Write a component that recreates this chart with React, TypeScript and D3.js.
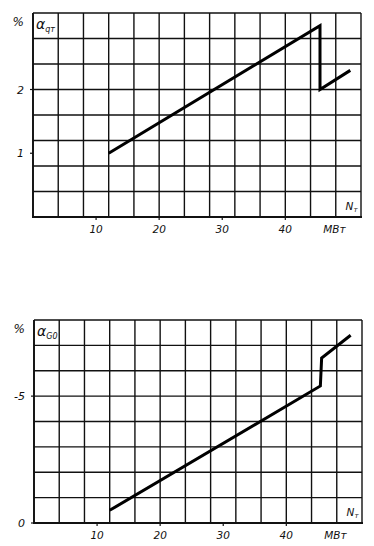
import * as d3 from "d3";

// x axis: turbine power N_T, MW
const nTicks = [10, 20, 30, 40];

// upper panel: alpha_qT, %
const qN = [12, 45.5, 45.5, 50.3];
const qAlpha = [1.0, 3.0, 2.0, 2.3];
const qTicks = [1, 2];

// lower panel: alpha_G0, %
const gN = [12, 45.4, 45.6, 50.2];
const gAlpha = [-0.5, -5.4, -6.5, -7.4];
const gTicks = [0, -5];

const FONT = "'DejaVu Sans', sans-serif";

type PanelProps = {
  top: number;
  bottom: number;
  left: number;
  right: number;
  yDomain: [number, number];
  yStep: number;
  yTicks: number[];
  xs: number[];
  ys: number[];
  sub: string;
};

function Panel({ top, bottom, left, right, yDomain, yStep, yTicks, xs, ys, sub }: PanelProps) {
  const x = d3.scaleLinear().domain([0, 52]).range([left, right]);
  const y = d3.scaleLinear().domain(yDomain).range([bottom, top]);

  const cols = d3.range(0, 52 + 0.01, 4);
  const lo = Math.min(...yDomain), hi = Math.max(...yDomain);
  const rows = d3.range(lo, hi + yStep / 10, yStep);

  const line = d3
    .line<number>()
    .x((_, i) => x(xs[i]))
    .y((d) => y(d));

  return (
    <g fontFamily={FONT} fontStyle="oblique" fill="#111">
      {cols.map((c) => (
        <line key={"v" + c} x1={x(c)} x2={x(c)} y1={top} y2={bottom} stroke="#111" strokeWidth={1.4} />
      ))}
      {rows.map((r) => (
        <line key={"h" + r} x1={left} x2={right} y1={y(r)} y2={y(r)} stroke="#111" strokeWidth={1.4} />
      ))}
      <line x1={left - 1} x2={right + 1} y1={bottom} y2={bottom} stroke="#111" strokeWidth={2.2} />
      <line x1={left} x2={left} y1={top} y2={bottom} stroke="#111" strokeWidth={1.8} />

      {nTicks.map((t) => (
        <g key={"xt" + t}>
          <line x1={x(t)} x2={x(t)} y1={bottom} y2={bottom + 3} stroke="#111" strokeWidth={1.2} />
          <text x={x(t)} y={bottom + 16} fontSize={10.5} textAnchor="middle">
            {t}
          </text>
        </g>
      ))}
      <text x={x(47.8)} y={bottom + 16} fontSize={10.5} textAnchor="middle">
        МВт
      </text>
      <text x={x(50.5)} y={bottom - 7} fontSize={10.5} textAnchor="middle">
        N<tspan fontSize={7} dy={2}>т</tspan>
      </text>

      {yTicks.map((t) => (
        <g key={"yt" + t}>
          <line x1={left - 3} x2={left} y1={y(t)} y2={y(t)} stroke="#111" strokeWidth={1.2} />
          <text x={left - 9} y={y(t) + 4} fontSize={11} textAnchor="end">
            {String(t)}
          </text>
        </g>
      ))}
      <text x={left - 9} y={top + 13} fontSize={12} textAnchor="end">
        %
      </text>
      <text x={left + 3} y={top + 16} fontSize={14}>
        α<tspan fontSize={8} dy={3}>{sub}</tspan>
      </text>

      <path d={line(ys) ?? ""} fill="none" stroke="#000" strokeWidth={3} strokeLinejoin="miter" />
    </g>
  );
}

export default function App() {
  return (
    <svg width={374} height={546} style={{ position: "absolute", left: 0, top: 0, background: "#fff" }}>
      <rect width={374} height={546} fill="#fff" />
      <Panel
        top={13}
        bottom={217}
        left={33}
        right={361}
        yDomain={[0, 3.2]}
        yStep={0.4}
        yTicks={qTicks}
        xs={qN}
        ys={qAlpha}
        sub="qт"
      />
      <Panel
        top={320}
        bottom={523}
        left={34}
        right={362}
        yDomain={[0, -8]}
        yStep={1}
        yTicks={gTicks}
        xs={gN}
        ys={gAlpha}
        sub="G0"
      />
    </svg>
  );
}
